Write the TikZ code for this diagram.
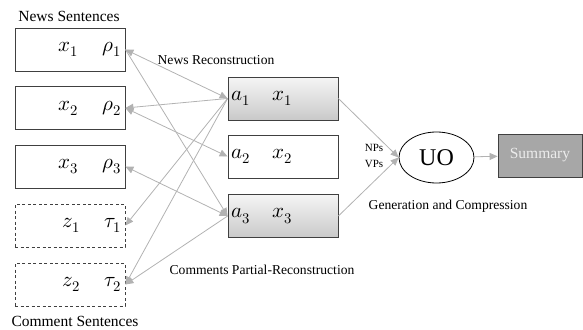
\documentclass[tikz,border=0pt]{standalone}
\usepackage{fontspec}
\usepackage{unicode-math}
\setmainfont{Liberation Serif}
\usetikzlibrary{arrows.meta,shapes,positioning,calc}

\begin{document}
\begin{tikzpicture}[x=1pt,y=-1pt,
  sentbox/.style={draw=black!75, line width=0.8pt, minimum width=110pt, minimum height=43pt,
    text width=103pt, align=right, inner xsep=3.5pt, font=\fontsize{21}{24}\selectfont},
  cmtbox/.style={sentbox, dash pattern=on 3pt off 2.5pt},
  selbox/.style={sentbox, align=left},
  hotbox/.style={selbox, top color=gray!8, bottom color=gray!42},
  link/.style={draw=gray!60, line width=0.8pt, -{Triangle[length=8pt,width=7pt]}},
  link2/.style={link, {Triangle[length=8pt,width=7pt]}-{Triangle[length=8pt,width=7pt]}},
  note/.style={font=\fontsize{13.6}{15}\selectfont}
]
\useasboundingbox (0,0) rectangle (583,329);

% sentences on the left
\node[sentbox] (news1) at (70,49.5) {$x_1$\hspace{24pt}$\rho_1$};
\node[sentbox] (news2) at (70,108) {$x_2$\hspace{24pt}$\rho_2$};
\node[sentbox] (news3) at (70,166.5) {$x_3$\hspace{24pt}$\rho_3$};
\node[cmtbox] (cmt1) at (70,225.5) {$z_1$\hspace{24pt}$\tau_1$};
\node[cmtbox] (cmt2) at (70,284.5) {$z_2$\hspace{24pt}$\tau_2$};
\node[font=\fontsize{15.5}{18}\selectfont] (newslbl) at (69,16) {News Sentences};
\node[font=\fontsize{15.5}{18}\selectfont] (cmtlbl) at (75,321) {Comment Sentences};

% selected units
\node[hotbox] (sel1) at (283,98.5) {$a_1$\hspace{22pt}$x_1$};
\node[selbox] (sel2) at (283,156.5) {$a_2$\hspace{22pt}$x_2$};
\node[hotbox] (sel3) at (283,216) {$a_3$\hspace{22pt}$x_3$};

% generation
\node[draw, ellipse, line width=0.8pt, minimum width=75pt, minimum height=51pt,
  font=\fontsize{24}{26}\selectfont] (uo) at (436.5,157.5) {UO};
\node[draw=black!75, line width=0.8pt, fill=gray!85!black!60, text=gray!15,
  minimum width=84pt, minimum height=43pt, font=\fontsize{15.5}{18}\selectfont]
  (summary) at (540,155.5) {Summary};

% labels
\node[note] (recon) at (216,60) {News Reconstruction};
\node[note] (precon) at (262,270) {Comments Partial-Reconstruction};
\node[note] (gen) at (448,206) {Generation and Compression};
\node[font=\fontsize{11}{12}\selectfont] (nps) at (374,148) {NPs};
\node[font=\fontsize{11}{12}\selectfont] (vps) at (374,164) {VPs};

% Arrows
\draw[link2] (news1.east) -- (sel1.west);
\draw[link] (sel1.west) -- (news2.east);
\draw[link2] (news2.east) -- (sel2.west);
\draw[link2] (news3.east) -- (sel3.west);
\draw[link] (news1.east) -- (sel3.west);
\draw[link] (sel1.west) -- (cmt1.east);
\draw[link] (sel1.west) -- (cmt2.east);
\draw[link] (sel3.west) -- (cmt2.east);
\draw[link] (sel1.east) -- (uo.west);
\draw[link] (sel3.east) -- (uo.west);
\draw[link] (uo) -- (summary);

\end{tikzpicture}
\end{document}
